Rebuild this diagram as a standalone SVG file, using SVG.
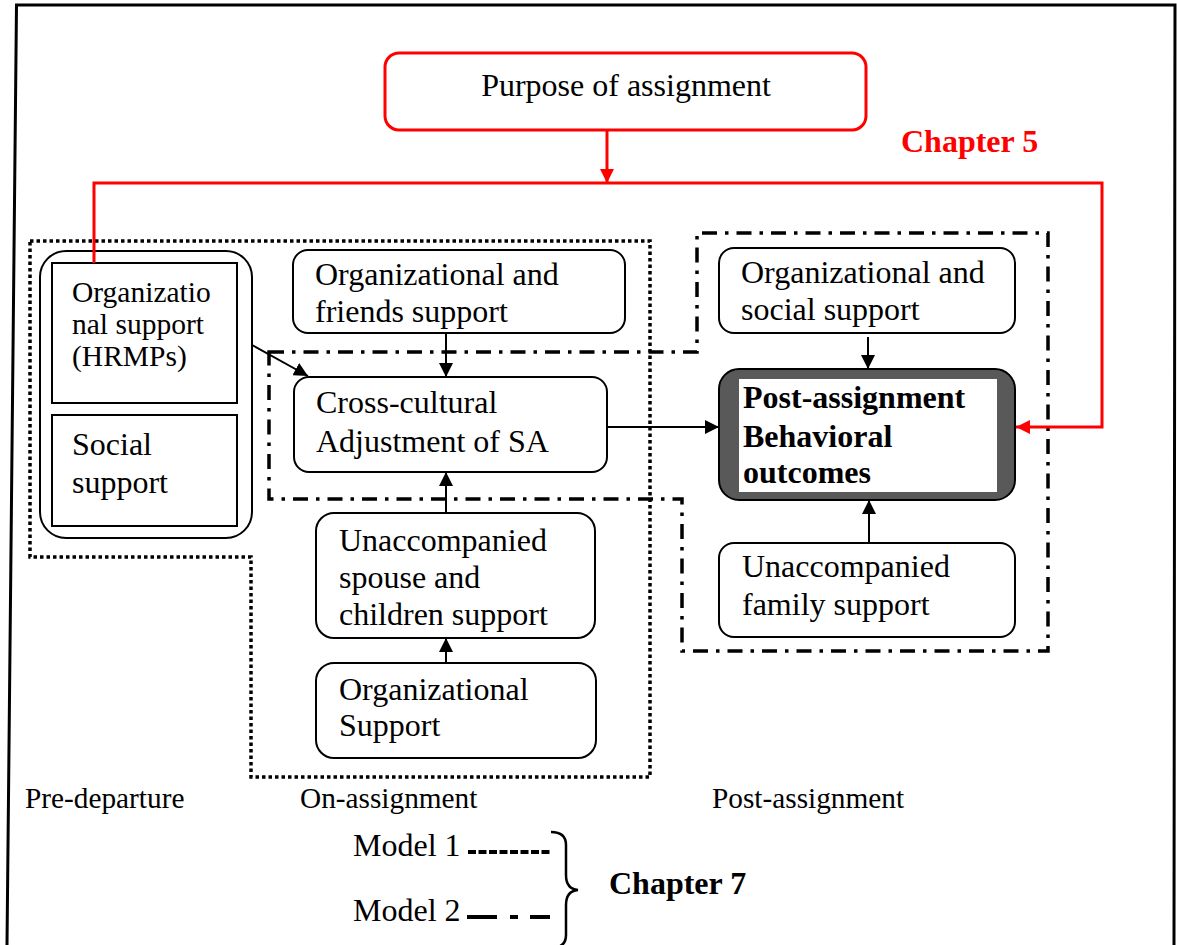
<svg xmlns="http://www.w3.org/2000/svg" width="1177" height="945" viewBox="0 0 1177 945">
  <style>
    text { font-family: "Liberation Serif", "Times New Roman", serif; fill: #000; }
    .t { font-size: 32px; }
    .s { font-size: 29.5px; }
    .p { font-size: 29.3px; }
    .b { font-size: 32px; font-weight: bold; }
    .box { fill: #fff; stroke: #000; stroke-width: 2; }
    .red { fill: none; stroke: #ff0000; stroke-width: 3; }
    .link { fill: none; stroke: #000; stroke-width: 2; }
    .m1 { fill: none; stroke: #000; stroke-width: 3.5; stroke-dasharray: 3.5 3; }
    .m2 { fill: none; stroke: #000; stroke-width: 3.5; stroke-dasharray: 15 8 3.5 8; }
  </style>
  <defs>
    <marker id="ah" markerUnits="userSpaceOnUse" markerWidth="14" markerHeight="14" viewBox="0 0 14 14" refX="14" refY="7" orient="auto">
      <path d="M0,0 L14,7 L0,14 Z" fill="#000"/>
    </marker>
    <marker id="ahr" markerUnits="userSpaceOnUse" markerWidth="14" markerHeight="14" viewBox="0 0 14 14" refX="14" refY="7" orient="auto">
      <path d="M0,0 L14,7 L0,14 Z" fill="#ff0000"/>
    </marker>
  </defs>

  <rect width="1177" height="945" fill="#fff"/>
  <!-- page frame -->
  <path d="M7,945 L16.5,5 L1175,5 L1174,945" fill="none" stroke="#000" stroke-width="3"/>

  <!-- model regions -->
  <g id="model1-region">
    <path class="m1" d="M30,241 L650,241 L650,777 L251,777 L251,557 L30,557 Z"/>
  </g>
  <g id="model2-region">
    <path class="m2" d="M269,352 L697,352 L697,233 L1048,233 L1048,651 L682,651 L682,499 L269,499 Z"/>
  </g>

  <!-- nodes -->
  <g id="purpose">
    <rect x="385" y="53" width="481" height="77" rx="14" fill="#fff" stroke="#ff0000" stroke-width="3"/>
    <text class="t" x="626" y="96" text-anchor="middle">Purpose of assignment</text>
  </g>

  <g id="chapter5">
    <text class="b" x="901" y="152" style="fill:#ff0000">Chapter 5</text>
  </g>

  <g id="pre-departure-support">
    <rect class="box" x="40" y="251" width="212" height="287" rx="26"/>
    <rect class="box" x="52" y="263" width="185" height="140"/>
    <text class="s" x="72" y="302">Organizatio</text>
    <text class="s" x="72" y="334">nal support</text>
    <text class="s" x="72" y="366">(HRMPs)</text>
    <rect class="box" x="52" y="415" width="185" height="111"/>
    <text class="t" x="72" y="455">Social</text>
    <text class="t" x="72" y="493">support</text>
  </g>

  <g id="org-friends-support">
    <rect class="box" x="293" y="250" width="332" height="83" rx="15"/>
    <text class="t" x="315" y="285">Organizational and</text>
    <text class="t" x="315" y="322">friends support</text>
  </g>

  <g id="cross-cultural">
    <rect class="box" x="294" y="377" width="313" height="95" rx="15"/>
    <text class="t" x="316" y="413">Cross-cultural</text>
    <text class="t" x="316" y="452">Adjustment of SA</text>
  </g>

  <g id="spouse-children-support">
    <rect class="box" x="316" y="513" width="279" height="125" rx="18"/>
    <text class="t" x="339" y="551">Unaccompanied</text>
    <text class="t" x="339" y="588">spouse and</text>
    <text class="t" x="339" y="625">children support</text>
  </g>

  <g id="org-support">
    <rect class="box" x="316" y="663" width="280" height="95" rx="18"/>
    <text class="t" x="339" y="700">Organizational</text>
    <text class="t" x="339" y="736">Support</text>
  </g>

  <g id="org-social-support">
    <rect class="box" x="719" y="248" width="296" height="85" rx="15"/>
    <text class="t" x="741" y="283">Organizational and</text>
    <text class="t" x="741" y="320">social support</text>
  </g>

  <g id="post-outcomes">
    <rect x="719" y="369" width="296" height="131" rx="20" fill="#595959" stroke="#000" stroke-width="2"/>
    <rect x="739" y="379" width="258" height="113" fill="#fff"/>
    <text class="b" x="743" y="408">Post-assignment</text>
    <text class="b" x="743" y="447">Behavioral</text>
    <text class="b" x="743" y="483">outcomes</text>
  </g>

  <g id="family-support">
    <rect class="box" x="719" y="543" width="296" height="94" rx="15"/>
    <text class="t" x="742" y="577">Unaccompanied</text>
    <text class="t" x="742" y="615">family support</text>
  </g>

  <!-- connectors -->
  <g id="connectors">
    <path class="red" d="M607,130 L607,183" marker-end="url(#ahr)"/>
    <path class="red" d="M94,263 L94,183 L1102,183 L1102,427 L1016,427" marker-end="url(#ahr)"/>
    <path class="link" d="M252,345 L308,376" marker-end="url(#ah)"/>
    <path class="link" d="M446,333 L446,377" marker-end="url(#ah)"/>
    <path class="link" d="M446,513 L446,472" marker-end="url(#ah)"/>
    <path class="link" d="M446,663 L446,638" marker-end="url(#ah)"/>
    <path class="link" d="M607,427 L719,427" marker-end="url(#ah)"/>
    <path class="link" d="M868,337 L868,369" marker-end="url(#ah)"/>
    <path class="link" d="M869,543 L869,500" marker-end="url(#ah)"/>
  </g>

  <!-- phase labels -->
  <g id="phase-labels">
    <text class="p" x="25" y="808">Pre-departure</text>
    <text class="p" x="300" y="808">On-assignment</text>
    <text class="p" x="712" y="808">Post-assignment</text>
  </g>

  <!-- legend -->
  <g id="legend">
    <text class="t" x="353" y="856">Model 1</text>
    <path d="M468,852 L550,852" fill="none" stroke="#000" stroke-width="4" stroke-dasharray="8 2.5"/>
    <text class="t" x="353" y="921">Model 2</text>
    <path d="M467,917 L497,917 M510,917 L518,917 M530,917 L550,917" fill="none" stroke="#000" stroke-width="4"/>
    <path d="M551,832 Q566,832 566,845 L566,875 Q566,889 578,890 Q566,891 566,905 L566,935 Q566,948 551,948" fill="none" stroke="#000" stroke-width="2.5"/>
    <text class="b" x="609" y="894">Chapter 7</text>
  </g>
</svg>
